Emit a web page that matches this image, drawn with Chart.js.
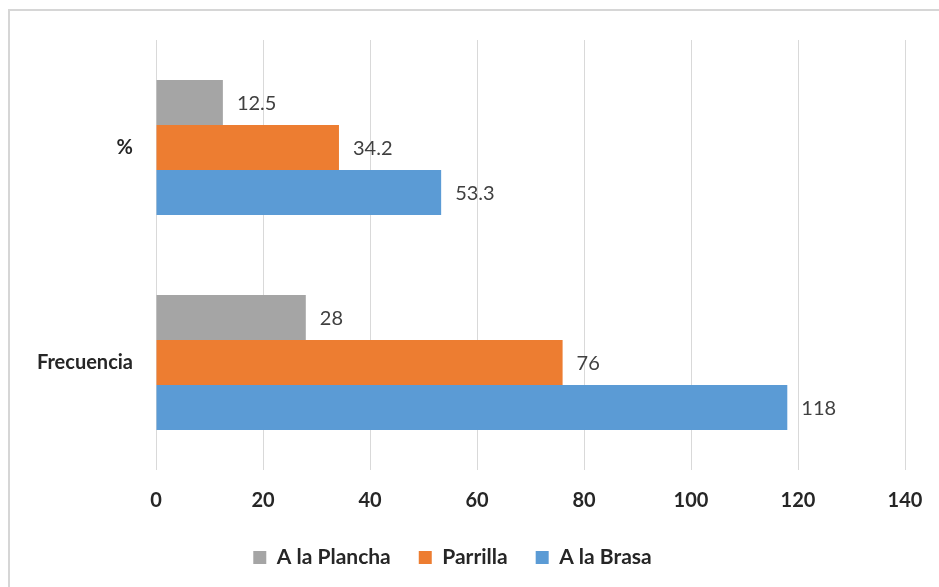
<!DOCTYPE html>
<html>
<head>
<meta charset="utf-8">
<script src="https://cdn.jsdelivr.net/npm/chart.js@4"></script>
<style>
  html, body { margin: 0; padding: 0; background: #fff; }
  #marco {
    position: absolute; left: 8px; top: 9px; width: 931px; height: 578px;
    border-top: 2px solid #d6d6d6; border-left: 2px solid #d6d6d6;
    box-sizing: border-box;
  }
  #contenedor { position: absolute; left: 0; top: 0; width: 939px; height: 587px; }
</style>
</head>
<body>
<div id="marco"></div>
<div id="contenedor"><canvas id="grafico"></canvas></div>
<script>
// Categorias y series
var categorias = ["%", "Frecuencia"];
var plancha = [12.5, 28];
var parrilla = [34.2, 76];
var brasa = [53.3, 118];
var ticksX = [0, 20, 40, 60, 80, 100, 120, 140];

var fuente = "Lato, 'Liberation Sans', sans-serif";

// Etiquetas con el valor al final de cada barra
var etiquetasValor = {
    id: "etiquetasValor",
    afterDatasetsDraw: function(chart) {
        var ctx = chart.ctx;
        ctx.save();
        ctx.font = "20px " + fuente;
        ctx.fillStyle = "#404040";
        ctx.textAlign = "left";
        ctx.textBaseline = "middle";
        chart.data.datasets.forEach(function(ds, i) {
            chart.getDatasetMeta(i).data.forEach(function(barra, j) {
                ctx.fillText(String(ds.data[j]), barra.x + 14, barra.y + 1);
            });
        });
        ctx.restore();
    }
};

var ctx = document.getElementById("grafico").getContext("2d");
var grafico = new Chart(ctx, {
    type: "bar",
    data: {
        labels: categorias,
        datasets: [
            { label: "A la Plancha", data: plancha, backgroundColor: "#a5a5a5" },
            { label: "Parrilla", data: parrilla, backgroundColor: "#ed7d31" },
            { label: "A la Brasa", data: brasa, backgroundColor: "#5b9bd5" }
        ]
    },
    options: {
        indexAxis: "y",
        responsive: true,
        maintainAspectRatio: false,
        animation: false,
        layout: { padding: { top: 40, right: 34, bottom: 9, left: 0 } },
        datasets: { bar: { categoryPercentage: 0.628, barPercentage: 1 } },
        scales: {
            x: {
                min: 0,
                max: 140,
                afterBuildTicks: function(scale) {
                    scale.ticks = ticksX.map(function(v) { return { value: v }; });
                },
                afterFit: function(scale) {
                    scale.height = 49;
                    scale.paddingLeft = 0;
                    scale.paddingRight = 0;
                },
                grid: { color: "#d9d9d9", drawTicks: false },
                border: { display: false },
                ticks: {
                    padding: 19,
                    color: "#262626",
                    font: { family: fuente, size: 20, weight: "bold" }
                }
            },
            y: {
                afterFit: function(scale) { scale.width = 156; },
                grid: { display: false, drawTicks: false },
                border: { display: false },
                ticks: {
                    padding: 23,
                    color: "#262626",
                    font: { family: fuente, size: 20, weight: "bold" }
                }
            }
        },
        plugins: {
            legend: {
                position: "bottom",
                labels: {
                    boxWidth: 13,
                    boxHeight: 13,
                    padding: 28,
                    color: "#262626",
                    font: { family: fuente, size: 21, weight: "bold" }
                }
            },
            tooltip: { enabled: false }
        }
    },
    plugins: [etiquetasValor]
});
</script>
</body>
</html>
